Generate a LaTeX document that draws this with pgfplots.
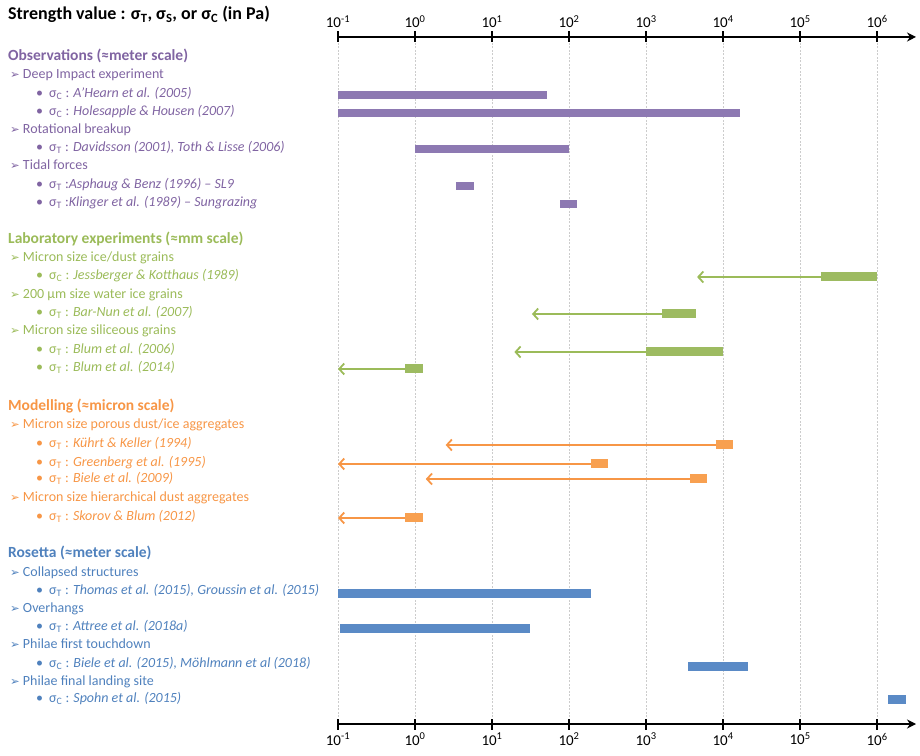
\documentclass[border=0pt]{standalone}
\usepackage{pgfplots}
\pgfplotsset{compat=1.18}
\usetikzlibrary{arrows.meta}
\usepackage{fontspec}
\setmainfont{Carlito}
\newfontfamily\symfont{DejaVu Sans}
\definecolor{tpurple}{RGB}{128,100,162}
\definecolor{bpurple}{RGB}{141,121,178}
\definecolor{tgreen}{RGB}{155,187,89}
\definecolor{bgreen}{RGB}{157,187,97}
\definecolor{torange}{RGB}{247,150,70}
\definecolor{borange}{RGB}{248,160,80}
\definecolor{tblue}{RGB}{79,129,189}
\definecolor{bblue}{RGB}{90,138,198}
\newcommand{\arr}{{\symfont\fontsize{11.5}{12}\selectfont ➢}}
\newcommand{\sig}[1]{σ\textsubscript{#1}}
\newcommand{\bodyfont}{\fontsize{14}{16}\selectfont}
\newcommand{\headfont}{\fontsize{15.5}{17}\selectfont\bfseries}
\begin{document}
\begin{tikzpicture}
\useasboundingbox (-338pt,724pt) rectangle (582pt,-31pt);
\begin{axis}[
    scale only axis, width=578pt, height=687pt,
    xmode=log, xmin=0.1, xmax=3.2e6, ymin=-724, ymax=-37,
    axis x line=bottom, axis y line=none,
    xtick={0.1,1,10,100,1000,10000,100000,1000000},
    xticklabels={10\textsuperscript{-1},10\textsuperscript{0},10\textsuperscript{1},10\textsuperscript{2},10\textsuperscript{3},10\textsuperscript{4},10\textsuperscript{5},10\textsuperscript{6}},
    xminorticks=false,
    xtick align=center, major tick length=11pt,
    every tick/.style={black, line width=1.6pt},
    x axis line style={line width=1.6pt, -{Stealth[length=9pt,width=9pt]}},
    tick label style={font=\fontsize{15}{16}\selectfont, black},
    clip=false,
    xmajorgrids, grid style={gray!40, line width=0.6pt, dash pattern=on 2pt off 1.5pt},
]
% ---- arrows (lower limits)
\addplot[tgreen, line width=1.8pt, -{Straight Barb[length=5pt,width=11pt,line width=1.8pt]}] coordinates {(1.85e5,-277) (4600,-277)};
\addplot[tgreen, line width=1.8pt, -{Straight Barb[length=5pt,width=11pt,line width=1.8pt]}] coordinates {(1600,-314) (33,-314)};
\addplot[tgreen, line width=1.8pt, -{Straight Barb[length=5pt,width=11pt,line width=1.8pt]}] coordinates {(1000,-352) (19.5,-352)};
\addplot[tgreen, line width=1.8pt, -{Straight Barb[length=5pt,width=11pt,line width=1.8pt]}] coordinates {(0.75,-369) (0.1,-369)};
\addplot[torange, line width=1.8pt, -{Straight Barb[length=5pt,width=11pt,line width=1.8pt]}] coordinates {(8000,-445) (2.5,-445)};
\addplot[torange, line width=1.8pt, -{Straight Barb[length=5pt,width=11pt,line width=1.8pt]}] coordinates {(190,-464) (0.1,-464)};
\addplot[torange, line width=1.8pt, -{Straight Barb[length=5pt,width=11pt,line width=1.8pt]}] coordinates {(3700,-479) (1.38,-479)};
\addplot[torange, line width=1.8pt, -{Straight Barb[length=5pt,width=11pt,line width=1.8pt]}] coordinates {(0.75,-518) (0.1,-518)};
% ---- bars (ranges)
\addplot[bpurple, line width=8pt] coordinates {(0.1,-95) (52,-95)};
\addplot[bpurple, line width=8pt] coordinates {(0.1,-113) (16500,-113)};
\addplot[bpurple, line width=8pt] coordinates {(1,-149) (100,-149)};
\addplot[bpurple, line width=8pt] coordinates {(3.4,-186) (5.9,-186)};
\addplot[bpurple, line width=8pt] coordinates {(77,-204) (125,-204)};
\addplot[bgreen, line width=9pt] coordinates {(1.85e5,-277) (1e6,-277)};
\addplot[bgreen, line width=9pt] coordinates {(1600,-314) (4400,-314)};
\addplot[bgreen, line width=9pt] coordinates {(1000,-352) (10000,-352)};
\addplot[bgreen, line width=9pt] coordinates {(0.75,-369) (1.26,-369)};
\addplot[borange, line width=9pt] coordinates {(8000,-445) (13500,-445)};
\addplot[borange, line width=9pt] coordinates {(190,-464) (325,-464)};
\addplot[borange, line width=9pt] coordinates {(3700,-479) (6200,-479)};
\addplot[borange, line width=9pt] coordinates {(0.75,-518) (1.26,-518)};
\addplot[bblue, line width=9pt] coordinates {(0.1,-593) (190,-593)};
\addplot[bblue, line width=9pt] coordinates {(0.107,-628) (31,-628)};
\addplot[bblue, line width=9pt] coordinates {(3550,-666) (21000,-666)};
\addplot[bblue, line width=9pt] coordinates {(1.4e6,-699) (2.35e6,-699)};
\end{axis}
\begin{axis}[
    scale only axis, width=578pt, height=687pt,
    xmode=log, xmin=0.1, xmax=3.2e6, ymin=-724, ymax=-37,
    axis x line=top, axis y line=none,
    xtick={0.1,1,10,100,1000,10000,100000,1000000},
    xticklabels={10\textsuperscript{-1},10\textsuperscript{0},10\textsuperscript{1},10\textsuperscript{2},10\textsuperscript{3},10\textsuperscript{4},10\textsuperscript{5},10\textsuperscript{6}},
    xminorticks=false,
    xtick align=center, major tick length=11pt,
    every tick/.style={black, line width=1.6pt},
    x axis line style={line width=1.6pt, -{Stealth[length=9pt,width=9pt]}},
    tick label style={font=\fontsize{15}{16}\selectfont, black},
    clip=false,
]
\addplot[draw=none] coordinates {(1,-100)};
\end{axis}
\begin{scope}[shift={(-338pt,724pt)}, x=1pt, y=-1pt,
  every node/.style={anchor=west, inner sep=0pt, text height=1.6ex, text depth=0.45ex}]
\node[font=\fontsize{18}{20}\selectfont\bfseries] at (8,17) {Strength value : \sig{T}, \sig{S}, or \sig{C} (in Pa)};
% Observations
\begin{scope}[text=tpurple, font=\bodyfont]
\node[font=\headfont] at (8,58) {Observations (≈meter scale)};
\node at (10,76) {\arr\ Deep Impact experiment};
\node at (36,95) {•\hspace{6pt}\sig{C} : \textit{A’Hearn et al. (2005)}};
\node at (36,113) {•\hspace{6pt}\sig{C} : \textit{Holesapple \& Housen (2007)}};
\node at (10,131) {\arr\ Rotational breakup};
\node at (36,149) {•\hspace{6pt}\sig{T} : \textit{Davidsson (2001), Toth \& Lisse (2006)}};
\node at (10,167) {\arr\ Tidal forces};
\node at (36,186) {•\hspace{6pt}\sig{T} :\textit{Asphaug \& Benz (1996) – SL9}};
\node at (36,204) {•\hspace{6pt}\sig{T} :\textit{Klinger et al. (1989) – Sungrazing}};
\end{scope}
% Laboratory
\begin{scope}[text=tgreen, font=\bodyfont]
\node[font=\headfont] at (8,241) {Laboratory experiments (≈mm scale)};
\node at (10,259) {\arr\ Micron size ice/dust grains};
\node at (36,277) {•\hspace{6pt}\sig{C} : \textit{Jessberger \& Kotthaus (1989)}};
\node at (10,296) {\arr\ 200 µm size water ice grains};
\node at (36,314) {•\hspace{6pt}\sig{T} : \textit{Bar-Nun et al. (2007)}};
\node at (10,332) {\arr\ Micron size siliceous grains};
\node at (36,351) {•\hspace{6pt}\sig{T} : \textit{Blum et al. (2006)}};
\node at (36,369) {•\hspace{6pt}\sig{T} : \textit{Blum et al. (2014)}};
\end{scope}
% Modelling
\begin{scope}[text=torange, font=\bodyfont]
\node[font=\headfont] at (8,408) {Modelling (≈micron scale)};
\node at (10,426) {\arr\ Micron size porous dust/ice aggregates};
\node at (36,445) {•\hspace{6pt}\sig{T} : \textit{Kührt \& Keller (1994)}};
\node at (36,464) {•\hspace{6pt}\sig{T} : \textit{Greenberg et al. (1995)}};
\node at (36,480) {•\hspace{6pt}\sig{T} : \textit{Biele et al. (2009)}};
\node at (10,499) {\arr\ Micron size hierarchical dust aggregates};
\node at (36,518) {•\hspace{6pt}\sig{T} : \textit{Skorov \& Blum (2012)}};
\end{scope}
% Rosetta
\begin{scope}[text=tblue, font=\bodyfont]
\node[font=\headfont] at (8,555) {Rosetta (≈meter scale)};
\node at (10,574) {\arr\ Collapsed structures};
\node at (36,592) {•\hspace{6pt}\sig{T} : \textit{Thomas et al. (2015), Groussin et al. (2015)}};
\node at (10,610) {\arr\ Overhangs};
\node at (36,628) {•\hspace{6pt}\sig{T} : \textit{Attree et al. (2018a)}};
\node at (10,646) {\arr\ Philae first touchdown};
\node at (36,665) {•\hspace{6pt}\sig{C} : \textit{Biele et al. (2015), Möhlmann et al (2018)}};
\node at (10,683) {\arr\ Philae final landing site};
\node at (36,700) {•\hspace{6pt}\sig{C} : \textit{Spohn et al. (2015)}};
\end{scope}
\end{scope}
\end{tikzpicture}
\end{document}
